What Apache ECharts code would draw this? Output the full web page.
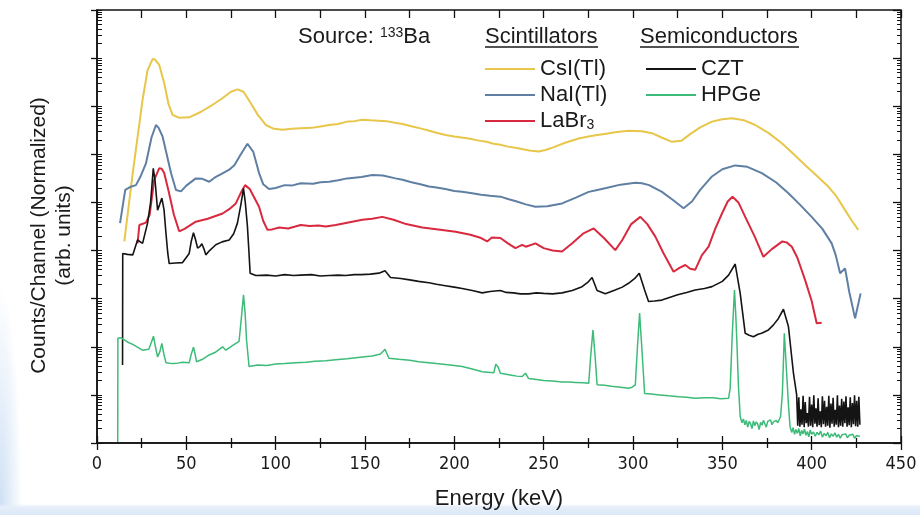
<!DOCTYPE html>
<html>
<head>
<meta charset="utf-8">
<script src="https://cdn.jsdelivr.net/npm/echarts@6/dist/echarts.min.js"></script>
<style>
  html, body { margin: 0; padding: 0; }
  body {
    width: 920px; height: 515px; overflow: hidden;
    background:
      linear-gradient(to top, #dbe7f6 0px, #e6eefa 8px, rgba(255,255,255,0) 11px),
      radial-gradient(ellipse 22px 230px at 0% 100%, #cddff4 0%, rgba(255,255,255,0) 100%),
      #ffffff;
  }
  #spectra { width: 920px; height: 515px; }
</style>
</head>
<body>
<div id="spectra"></div>
<script>
// y values are in decades (log10 of counts/channel, arbitrary offset)
const xTicks = [0, 50, 100, 150, 200, 250, 300, 350, 400, 450]
const decades = [0, 1, 2, 3, 4, 5, 6, 7, 8, 9]

const csiTl = [
  [15.3, 4.19], [20, 5.61], [25.5, 7.13], [28.3, 7.75], [31.1, 7.98], [32.5, 7.97], [34.8, 7.86],
  [37.5, 7.5], [40, 7.05], [42.3, 6.82], [46, 6.76], [51.6, 6.77], [58, 6.88], [64.7, 7.03],
  [70, 7.16], [75, 7.3], [78.6, 7.35], [82, 7.3], [86.1, 7.06], [90, 6.82], [94.5, 6.61],
  [99, 6.53], [103.8, 6.51], [109, 6.53], [114, 6.54], [120, 6.55], [125, 6.58], [129.9, 6.61],
  [135, 6.63], [140, 6.68], [144, 6.69], [148.5, 6.72], [153, 6.71], [157.8, 6.70], [162, 6.69],
  [166, 6.66], [171, 6.63], [176.5, 6.58], [181, 6.54], [186, 6.49], [190, 6.45], [195.1, 6.40],
  [200, 6.37], [204, 6.35], [208.1, 6.33], [213, 6.29], [218, 6.26], [222, 6.22], [225.8, 6.20],
  [230, 6.16], [235, 6.13], [242, 6.08], [247.2, 6.06], [251, 6.09], [255, 6.14], [262, 6.24],
  [269.6, 6.33], [275, 6.37], [280, 6.40], [285, 6.43], [290, 6.46], [297.5, 6.49], [305, 6.48],
  [310.6, 6.44], [316, 6.35], [321.8, 6.26], [327, 6.28], [332, 6.42], [337.6, 6.56], [344.2, 6.68],
  [350, 6.73], [355.3, 6.75], [362, 6.71], [368.4, 6.61], [376, 6.44], [383.3, 6.23], [390, 6.00],
  [396.3, 5.78], [403, 5.55], [409.3, 5.33], [414, 5.12], [418.7, 4.84], [422.5, 4.62], [426.1, 4.43]
]

const naiTl = [
  [12.9, 4.57], [15.8, 5.26], [18.5, 5.32], [21.8, 5.36], [24.5, 5.55], [27.4, 5.81], [30.5, 6.35],
  [33, 6.61], [34.5, 6.55], [36.7, 6.37], [39, 6.0], [41.5, 5.6], [44.2, 5.26], [47, 5.23],
  [50, 5.35], [55.3, 5.50], [59, 5.49], [62.8, 5.43], [66, 5.52], [70, 5.60], [74, 5.68],
  [77, 5.78], [80, 5.97], [84.2, 6.22], [87.5, 6.05], [90.7, 5.61], [93, 5.38], [96.3, 5.28],
  [100, 5.30], [105, 5.36], [109, 5.35], [114, 5.40], [121, 5.39], [125, 5.42], [129.9, 5.43],
  [135, 5.46], [140, 5.50], [148, 5.53], [154.1, 5.57], [160, 5.56], [167.1, 5.50], [171, 5.47],
  [176, 5.42], [181, 5.38], [185.8, 5.33], [190, 5.31], [195, 5.28], [200, 5.24], [204.4, 5.22],
  [210, 5.19], [215, 5.16], [220, 5.14], [225.8, 5.12], [230, 5.07], [235, 5.02], [240, 4.96],
  [245.4, 4.91], [252, 4.92], [260.3, 4.98], [268, 5.10], [275.2, 5.22], [280, 5.26], [285, 5.30],
  [293, 5.37], [301.3, 5.41], [305, 5.40], [309, 5.36], [316.2, 5.22], [322, 5.06], [328.3, 4.88],
  [333, 5.02], [337.6, 5.26], [344.2, 5.54], [350, 5.69], [357.2, 5.77], [364, 5.74], [372.1, 5.61],
  [380, 5.42], [387, 5.19], [393, 4.97], [400, 4.70], [406, 4.45], [411.2, 4.15], [413.5, 3.90],
  [415.9, 3.53], [418.7, 3.63], [421, 3.15], [424.3, 2.59], [427.4, 3.11]
]

const laBr3 = [
  [22.7, 4.15], [23.7, 4.53], [27.4, 4.58], [29.5, 4.75], [32, 5.47], [34.8, 5.71], [36.2, 5.70],
  [37.6, 5.61], [40, 5.25], [43, 4.75], [46, 4.40], [49, 4.45], [55.3, 4.60], [62, 4.66],
  [70.3, 4.77], [74, 4.86], [77.7, 4.98], [80.5, 5.20], [82.9, 5.36], [85.5, 5.28], [90.7, 4.91],
  [93, 4.62], [95.4, 4.43], [98, 4.44], [102, 4.48], [107, 4.46], [114, 4.53], [119, 4.51],
  [124, 4.52], [128, 4.50], [133.6, 4.53], [140, 4.58], [148.5, 4.64], [154, 4.66], [159.7, 4.70],
  [166, 4.64], [173, 4.55], [182.1, 4.48], [191, 4.44], [200.7, 4.39], [209, 4.33], [215, 4.26],
  [218.4, 4.19], [221, 4.27], [225.8, 4.26], [230, 4.15], [234.2, 4.05], [238, 4.12], [240, 4.08],
  [245.4, 4.15], [250, 4.05], [255, 4.00], [260.3, 3.98], [266, 4.15], [272, 4.35], [278, 4.46],
  [284, 4.25], [290.1, 4.01], [294, 4.22], [299, 4.55], [304.1, 4.70], [308, 4.55], [312.5, 4.29],
  [317, 3.95], [322.7, 3.56], [326, 3.64], [329.3, 3.70], [332, 3.62], [334.8, 3.60], [338.5, 3.90],
  [342.3, 4.08], [346, 4.45], [349.8, 4.77], [353, 5.02], [355.7, 5.12], [359, 5.00], [362.8, 4.70],
  [368, 4.30], [373, 3.87], [377.7, 4.03], [383.6, 4.19], [386, 4.17], [388.9, 4.08], [392, 3.85],
  [396.3, 3.39], [400, 2.95], [402.8, 2.49], [405.6, 2.50]
]

const czt = [
  [14.3, 1.62], [14.4, 3.94], [17, 3.92], [20, 3.91], [22.7, 4.22], [25.5, 4.15], [28.3, 4.57],
  [30, 5.0], [31.5, 5.71], [32.5, 5.45], [33.9, 4.84], [35, 4.95], [36.3, 5.09], [37.5, 4.85],
  [38.6, 4.36], [39.6, 3.95], [40.4, 3.73], [44, 3.74], [47.9, 3.75], [51.6, 3.94], [52.8, 4.20],
  [54, 4.37], [55.2, 4.22], [56.3, 4.05], [57.5, 4.08], [58.7, 4.14], [60, 4.02], [60.9, 3.91],
  [63, 4.00], [66.5, 4.12], [70, 4.18], [74, 4.22], [76.5, 4.35], [78.6, 4.57], [80.5, 4.95],
  [82, 5.29], [83, 5.0], [84.2, 4.50], [85, 4.0], [85.7, 3.53], [88.9, 3.48], [95, 3.49],
  [100, 3.47], [105, 3.50], [110, 3.48], [114, 3.49], [120, 3.50], [125, 3.47], [130, 3.48],
  [135, 3.49], [139.2, 3.48], [144, 3.50], [148, 3.50], [153, 3.51], [157.8, 3.53], [161.2, 3.58],
  [164.3, 3.44], [170, 3.42], [175, 3.39], [180, 3.36], [185.8, 3.33], [190, 3.30], [195, 3.27],
  [200, 3.24], [204.4, 3.21], [210, 3.17], [215.6, 3.12], [220, 3.15], [225.8, 3.17], [229, 3.13],
  [233, 3.12], [237, 3.10], [241.6, 3.10], [246, 3.12], [250, 3.11], [255, 3.10], [260.3, 3.12],
  [266, 3.17], [271.5, 3.25], [275, 3.35], [277.1, 3.44], [279.9, 3.17], [284.5, 3.10], [290, 3.18],
  [294, 3.24], [297.5, 3.32], [301, 3.42], [303.5, 3.53], [306.5, 3.18], [308.7, 2.94], [312, 2.95],
  [316.2, 2.97], [320, 3.02], [325, 3.08], [330, 3.13], [334.8, 3.18], [340, 3.21], [344.2, 3.25],
  [350, 3.36], [353.5, 3.49], [357.2, 3.72], [360, 3.11], [362.8, 2.28], [365, 2.24], [367.4, 2.21],
  [370, 2.26], [372, 2.28], [375.8, 2.35], [378.5, 2.45], [381.4, 2.59], [384.2, 2.78], [387, 2.42],
  [389.8, 1.45], [391.6, 1.00], [392.2, 0.36], [392.8, 0.95], [393.4, 0.34], [394.0, 0.70],
  [394.6, 0.38], [395.2, 0.98], [395.8, 0.33], [396.4, 0.85], [397.0, 0.41], [397.6, 0.62],
  [398.2, 0.34], [398.8, 0.96], [399.4, 0.36], [400.0, 0.80], [400.6, 0.33], [401.2, 0.99],
  [401.8, 0.40], [402.4, 0.72], [403.0, 0.34], [403.6, 0.93], [404.2, 0.37], [404.8, 0.66],
  [405.4, 0.33], [406.0, 0.97], [406.6, 0.39], [407.2, 0.88], [407.8, 0.34], [408.4, 0.75],
  [409.0, 0.36], [409.6, 0.98], [410.2, 0.32], [410.8, 0.82], [411.4, 0.40], [412.0, 0.94],
  [412.6, 0.34], [413.2, 0.69], [413.8, 0.38], [414.4, 0.99], [415.0, 0.33], [415.6, 0.78],
  [416.2, 0.36], [416.8, 0.92], [417.4, 0.34], [418.0, 0.86], [418.6, 0.41], [419.2, 0.97],
  [419.8, 0.34], [420.4, 0.74], [421.0, 0.37], [421.6, 0.95], [422.2, 0.33], [422.8, 0.83],
  [423.4, 0.39], [424.0, 0.99], [424.6, 0.35], [425.2, 0.88], [425.8, 0.34], [426.4, 0.96],
  [427.0, 0.38]
]

const hpge = [
  [11.6, 0.02], [11.7, 2.18], [13.4, 2.19], [17, 2.10], [20, 2.05], [25.5, 1.93], [29, 1.95],
  [30.5, 2.10], [31.6, 2.22], [32.7, 2.0], [33.9, 1.79], [35.2, 1.90], [36.3, 2.07], [37.4, 1.85],
  [38.6, 1.67], [42, 1.65], [45, 1.66], [48, 1.68], [51.6, 1.67], [52.8, 1.85], [54, 1.99],
  [54.9, 1.85], [55.7, 1.69], [59, 1.74], [62.8, 1.83], [66, 1.88], [70.3, 2.00], [72.1, 1.93],
  [76, 2.03], [79.5, 2.11], [80.8, 2.60], [82, 3.08], [82.9, 2.70], [83.7, 2.14], [85.1, 1.59],
  [90, 1.62], [95, 1.61], [100, 1.64], [105, 1.65], [111.2, 1.67], [117, 1.68], [122, 1.70],
  [128, 1.71], [133.6, 1.73], [140, 1.75], [148.5, 1.79], [154, 1.81], [158.7, 1.85], [161.2, 1.95],
  [163.4, 1.76], [169, 1.74], [175, 1.72], [180, 1.69], [185.8, 1.67], [190, 1.65], [195, 1.63],
  [200, 1.61], [204.4, 1.59], [210, 1.54], [215.6, 1.48], [222.1, 1.46], [223.2, 1.64], [224.5, 1.58],
  [225.8, 1.45], [229, 1.43], [232, 1.41], [235, 1.39], [238, 1.38], [239.8, 1.45], [241.6, 1.34],
  [246, 1.32], [250, 1.30], [255, 1.29], [260.3, 1.27], [264, 1.27], [268, 1.26], [272, 1.25],
  [275.2, 1.24], [276.3, 1.80], [277.6, 2.35], [278.8, 1.80], [279.9, 1.21], [284, 1.20], [288, 1.18],
  [293, 1.16], [297.5, 1.14], [299.5, 1.16], [301.3, 1.21], [302.5, 2.0], [303.7, 2.70], [304.9, 2.0],
  [306.5, 1.03], [310, 1.02], [315, 1.00], [320, 0.98], [325.5, 0.96], [330, 0.95], [335, 0.93],
  [340, 0.94], [345, 0.94], [349, 0.92], [353.5, 0.93], [354.4, 1.14], [355.6, 2.3], [356.8, 3.18],
  [357.6, 2.6], [358.1, 2.14], [359, 1.2], [360, 0.55], [361.0, 0.42], [361.8, 0.50], [362.6, 0.38],
  [363.4, 0.47], [364.2, 0.33], [365.0, 0.45], [365.8, 0.40], [366.6, 0.30], [367.4, 0.46],
  [368.2, 0.36], [369.0, 0.44], [369.8, 0.39], [370.6, 0.28], [371.4, 0.43], [372.2, 0.37],
  [373.0, 0.47], [373.8, 0.40], [374.6, 0.33], [375.4, 0.45], [376.2, 0.41], [377.0, 0.48],
  [377.8, 0.38], [378.6, 0.44], [379.4, 0.40], [380.2, 0.47], [381.0, 0.42], [382.0, 0.50],
  [382.6, 0.55], [383.6, 1.03], [384.7, 2.28], [386, 1.45], [387, 0.8], [387.9, 0.34], [388.8, 0.22],
  [389.6, 0.32], [390.4, 0.18], [391.2, 0.28], [392.0, 0.20], [392.8, 0.30], [393.6, 0.15],
  [394.4, 0.26], [395.2, 0.19], [396.0, 0.29], [396.8, 0.16], [397.6, 0.24], [398.4, 0.13],
  [399.2, 0.27], [400.0, 0.18], [401.0, 0.23], [402.0, 0.14], [403.0, 0.22], [404.0, 0.17],
  [405.0, 0.25], [406.0, 0.12], [407.0, 0.20], [408.0, 0.15], [409.0, 0.22], [410.0, 0.11],
  [411.0, 0.19], [412.0, 0.14], [413.0, 0.21], [414.0, 0.12], [415.0, 0.18], [416.0, 0.10],
  [417.0, 0.17], [418.0, 0.13], [419.0, 0.19], [420.0, 0.11], [421.0, 0.16], [422.0, 0.12],
  [423.0, 0.18], [424.0, 0.10], [425.0, 0.15], [426.0, 0.12], [427.0, 0.14]
]

const scintNames = ['CsI(Tl)', 'NaI(Tl)', 'LaBr3']
const semiNames = ['CZT', 'HPGe']

const FONT = 'Liberation Sans, Arial, sans-serif'
const NARROW = 'Liberation Sans Narrow, Arial Narrow, DejaVu Sans Condensed, sans-serif'
const INK = '#1a1a1a'

// log-style minor ticks between decades (2..9 x 10^n)
const minorTicks = []
decades.slice(0, -1).forEach(d => {
  for (let k = 2; k <= 9; k++) minorTicks.push(d + Math.log10(k))
})

const charts = echarts.init(document.getElementById('spectra'))

function line(name, data, color, width) {
  return {
    name: name,
    type: 'line',
    data: data,
    showSymbol: false,
    symbol: 'none',
    lineStyle: { color: color, width: width },
    itemStyle: { color: color },
    animation: false
  }
}

function legendBox(names, left) {
  return {
    data: names,
    orient: 'vertical',
    left: left,
    top: 53,
    icon: 'rect',
    itemWidth: 50,
    itemHeight: 2,
    itemGap: 4,
    selectedMode: false,
    formatter: name => name === 'LaBr3' ? 'LaBr{sub|3}' : name,
    textStyle: {
      fontFamily: FONT,
      fontSize: 22,
      color: INK,
      rich: {
        sub: { fontFamily: FONT, fontSize: 14, color: INK, verticalAlign: 'bottom', padding: [9, 0, 0, 0] }
      }
    }
  }
}

charts.setOption({
  animation: false,
  grid: {
    left: 97,
    right: 19,
    top: 10,
    bottom: 72,
    show: true,
    borderColor: '#111',
    borderWidth: 1.5
  },
  legend: [legendBox(scintNames, 480), legendBox(semiNames, 641)],
  graphic: [
    {
      type: 'text',
      x: 298,
      y: 37,
      style: {
        text: 'Source: {sup|133}Ba',
        fontFamily: FONT,
        fontSize: 22,
        fill: INK,
        verticalAlign: 'middle',
        rich: {
          sup: { fontFamily: FONT, fontSize: 14, fill: INK, verticalAlign: 'top', padding: [0, 0, 8, 0] }
        }
      }
    },
    {
      type: 'text',
      x: 485,
      y: 37,
      style: { text: 'Scintillators', fontFamily: FONT, fontSize: 22, fill: INK, verticalAlign: 'middle' }
    },
    {
      type: 'line',
      shape: { x1: 485, y1: 47, x2: 598, y2: 47 },
      style: { stroke: INK, lineWidth: 1.4 }
    },
    {
      type: 'text',
      x: 640,
      y: 37,
      style: { text: 'Semiconductors', fontFamily: FONT, fontSize: 22, fill: INK, verticalAlign: 'middle' }
    },
    {
      type: 'line',
      shape: { x1: 640, y1: 47, x2: 799, y2: 47 },
      style: { stroke: INK, lineWidth: 1.4 }
    }
  ],
  xAxis: [
    {
      type: 'value',
      position: 'bottom',
      min: 0,
      max: 450,
      interval: 50,
      name: 'Energy (keV)',
      nameLocation: 'middle',
      nameGap: 45,
      nameTextStyle: { fontFamily: FONT, fontSize: 22, color: INK },
      axisLine: { show: true, onZero: false, lineStyle: { color: '#111', width: 1.5 } },
      axisTick: { show: true, inside: false, length: 7, lineStyle: { color: '#111', width: 1.3 } },
      minorTick: { show: true, splitNumber: 2, length: 5, lineStyle: { color: '#111', width: 1.3 } },
      axisLabel: {
        fontFamily: NARROW, fontSize: 18, color: INK, margin: 12,
        customValues: xTicks
      },
      splitLine: { show: false }
    },
    {
      type: 'value',
      position: 'bottom',
      min: 0,
      max: 450,
      interval: 50,
      axisLine: { show: false, onZero: false },
      axisTick: { show: true, inside: true, length: 7, lineStyle: { color: '#111', width: 1.3 } },
      minorTick: { show: true, splitNumber: 2, length: 5, lineStyle: { color: '#111', width: 1.3 } },
      axisLabel: { show: false },
      splitLine: { show: false }
    },
    {
      type: 'value',
      position: 'top',
      min: 0,
      max: 450,
      interval: 25,
      axisLine: { show: false, onZero: false },
      axisTick: { show: true, inside: true, length: 8, lineStyle: { color: '#111', width: 1.3 } },
      axisLabel: { show: false },
      splitLine: { show: false }
    }
  ],
  yAxis: [
    {
      type: 'value',
      position: 'left',
      min: 0,
      max: 9,
      interval: 1,
      name: 'Counts/Channel (Normalized)\n(arb. units)',
      nameLocation: 'middle',
      nameGap: 20,
      nameTextStyle: { fontFamily: FONT, fontSize: 21, color: INK, lineHeight: 25, padding: [0, 18, 0, 0] },
      axisLine: { show: true, onZero: false, lineStyle: { color: '#111', width: 1.5 } },
      axisTick: { show: true, inside: false, length: 6, lineStyle: { color: '#111', width: 1.3 } },
      axisLabel: { show: false },
      splitLine: { show: false }
    },
    {
      type: 'value',
      position: 'left',
      min: 0,
      max: 9,
      axisLine: { show: false, onZero: false },
      axisTick: {
        show: true, inside: true, length: 5,
        customValues: decades.concat(minorTicks),
        lineStyle: { color: '#111', width: 1 }
      },
      axisLabel: { show: false },
      splitLine: { show: false }
    },
    {
      type: 'value',
      position: 'right',
      min: 0,
      max: 9,
      axisLine: { show: false, onZero: false },
      axisTick: {
        show: true, inside: true, length: 8,
        customValues: decades,
        lineStyle: { color: '#111', width: 1.3 }
      },
      axisLabel: { show: false },
      splitLine: { show: false }
    },
    {
      type: 'value',
      position: 'right',
      min: 0,
      max: 9,
      axisLine: { show: false, onZero: false },
      axisTick: {
        show: true, inside: true, length: 4,
        customValues: minorTicks,
        lineStyle: { color: '#111', width: 1 }
      },
      axisLabel: { show: false },
      splitLine: { show: false }
    }
  ],
  series: [
    line('CsI(Tl)', csiTl, '#e7c64a', 2),
    line('NaI(Tl)', naiTl, '#5f7fa3', 2),
    line('LaBr3', laBr3, '#d8293f', 2),
    line('CZT', czt, '#141414', 1.6),
    line('HPGe', hpge, '#3dbb78', 1.5)
  ]
})
</script>
</body>
</html>
